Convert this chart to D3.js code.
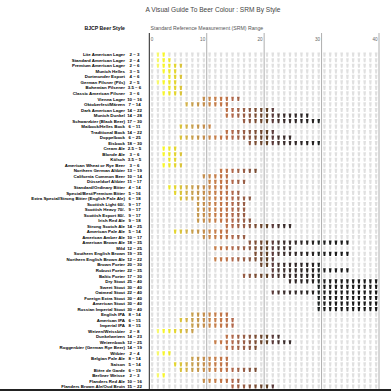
<!DOCTYPE html>
<html><head><meta charset="utf-8">
<script src="https://cdn.jsdelivr.net/npm/d3@7"></script>
<style>html,body{margin:0;padding:0;overflow:hidden;background:#fff}svg{display:block}</style>
</head><body>
<script>
const styles = ["Lite American Lager","Standard American Lager","Premium American Lager","Munich Helles","Dortmunder Export","German Pilsner (Pils)","Bohemian Pilsener","Classic American Pilsner","Vienna Lager","Oktoberfest/Märzen","Dark American Lager","Munich Dunkel","Schwarzbier (Black Beer)","Maibock/Helles Bock","Traditional Bock","Doppelbock","Eisbock","Cream Ale","Blonde Ale","Kölsch","American Wheat or Rye Beer","Northern German Altbier","California Common Beer","Düsseldorf Altbier","Standard/Ordinary Bitter","Special/Best/Premium Bitter","Extra Special/Strong Bitter (English Pale Ale)","Scottish Light 60/-","Scottish Heavy 70/-","Scottish Export 80/-","Irish Red Ale","Strong Scotch Ale","American Pale Ale","American Amber Ale","American Brown Ale","Mild","Southern English Brown","Northern English Brown Ale","Brown Porter","Robust Porter","Baltic Porter","Dry Stout","Sweet Stout","Oatmeal Stout","Foreign Extra Stout","American Stout","Russian Imperial Stout","English IPA","American IPA","Imperial IPA","Weizen/Weissbier","Dunkelweizen","Weizenbock","Roggenbier (German Rye Beer)","Witbier","Belgian Pale Ale","Saison","Bière de Garde","Berliner Weisse","Flanders Red Ale","Flanders Brown Ale/Oud Bruin"];
const srmLow  = [2,2,2,3,4,2,3.5,3,10,7,14,14,17,6,14,6,18,2.5,3,3.5,3,13,10,11,4,5,6,9,9,9,9,14,5,10,18,12,19,12,20,22,17,25,30,22,30,30,30,8,6,8,2,14,12,14,2,8,5,6,2,10,15];
const srmHigh = [3,4,6,5,6,5,6,6,16,14,22,28,30,11,22,25,30,5,6,5,6,19,14,17,14,16,18,17,17,17,18,25,14,17,35,25,35,22,30,35,30,40,40,40,40,40,40,14,15,15,8,23,25,19,4,14,14,19,3,16,22];
const ticks = [0,10,20,30,40];
const srmColors = ["#F3F993","#F5F75C","#F6F513","#EAE615","#E0D01B","#D5BC26","#CDAA37","#C1963C","#BE8C3A","#BE823A","#C17A37","#BF7138","#BC6733","#B26033","#A85839","#985336","#8D4C32","#7C452D","#6B3A1E","#5D341A","#4E2A0C","#4A2727","#361F1B","#261716","#231716","#19100F","#16100F","#120D0C","#100B0A","#050B0A","#040404","#030303","#030303","#020202","#020202","#010101","#010101","#000000","#000000","#000000"];
const srmSteps = d3.range(1,41);

const W=391,H=391;
const font='"Liberation Sans", Arial, sans-serif';
const svg=d3.select("body").append("svg").attr("width",W).attr("height",H).style("font-family",font);

const x=d3.scaleLinear().domain([0,40]).range([149.3,379]);
const y=d3.scalePoint().domain(styles).range([54.7,54.7+5.53*(styles.length-1)]);

svg.append("text").attr("x",213).attr("y",11.5).attr("text-anchor","middle").attr("font-size",6.6).attr("fill","#444").text("A Visual Guide To Beer Colour : SRM By Style");
svg.append("text").attr("x",125).attr("y",30).attr("text-anchor","end").attr("font-size",5.2).attr("font-weight","bold").attr("fill","#111").text("BJCP Beer Style");
svg.append("text").attr("x",150.5).attr("y",30).attr("font-size",5.2).attr("fill","#555").text("Standard Reference Measurement (SRM) Range");

svg.selectAll("line.grid").data(ticks).enter().append("line")
  .attr("x1",d=>x(d)).attr("x2",d=>x(d)).attr("y1",33).attr("y2",H)
  .attr("stroke",d=>d===0?"#222":"#999").attr("stroke-width",d=>d===0?1:0.8);
svg.selectAll("text.tick").data(ticks).enter().append("text")
  .attr("x",d=>d===0?x(d)+1.5:x(d)-1.5).attr("y",41)
  .attr("text-anchor",d=>d===0?"start":"end").attr("font-size",4.6).attr("fill","#666").text(d=>d);

const rows=svg.selectAll("g.row").data(styles).enter().append("g")
  .attr("transform",d=>`translate(0,${y(d)})`);
rows.append("text").attr("x",125).attr("y",1.6).attr("text-anchor","end")
  .attr("font-size",4.4).attr("font-weight","bold").attr("fill","#000").text(d=>d);
rows.append("text").attr("x",134.5).attr("y",1.6).attr("text-anchor","middle")
  .attr("font-size",4.4).attr("font-weight","bold").attr("fill","#000")
  .text((d,i)=>`${srmLow[i]} – ${srmHigh[i]}`);

const glass="M-1.35,-2.1 L1.35,-2.1 L0.85,2.1 L-0.85,2.1 Z";
rows.each(function(d,i){
  d3.select(this).selectAll("path").data(srmSteps).enter().append("path")
    .attr("d",glass)
    .attr("transform",s=>`translate(${x(s-0.5)},0)`)
    .attr("fill",s=>(s>=srmLow[i]&&s<=srmHigh[i])?srmColors[s-1]:"#e0e0e0")
    .attr("fill-opacity",s=>(s>=srmLow[i]&&s<=srmHigh[i])?0.9:1);
});

svg.append("rect").attr("x",0).attr("y",389).attr("width",W).attr("height",2).attr("fill","#222");
</script>
</body></html>
